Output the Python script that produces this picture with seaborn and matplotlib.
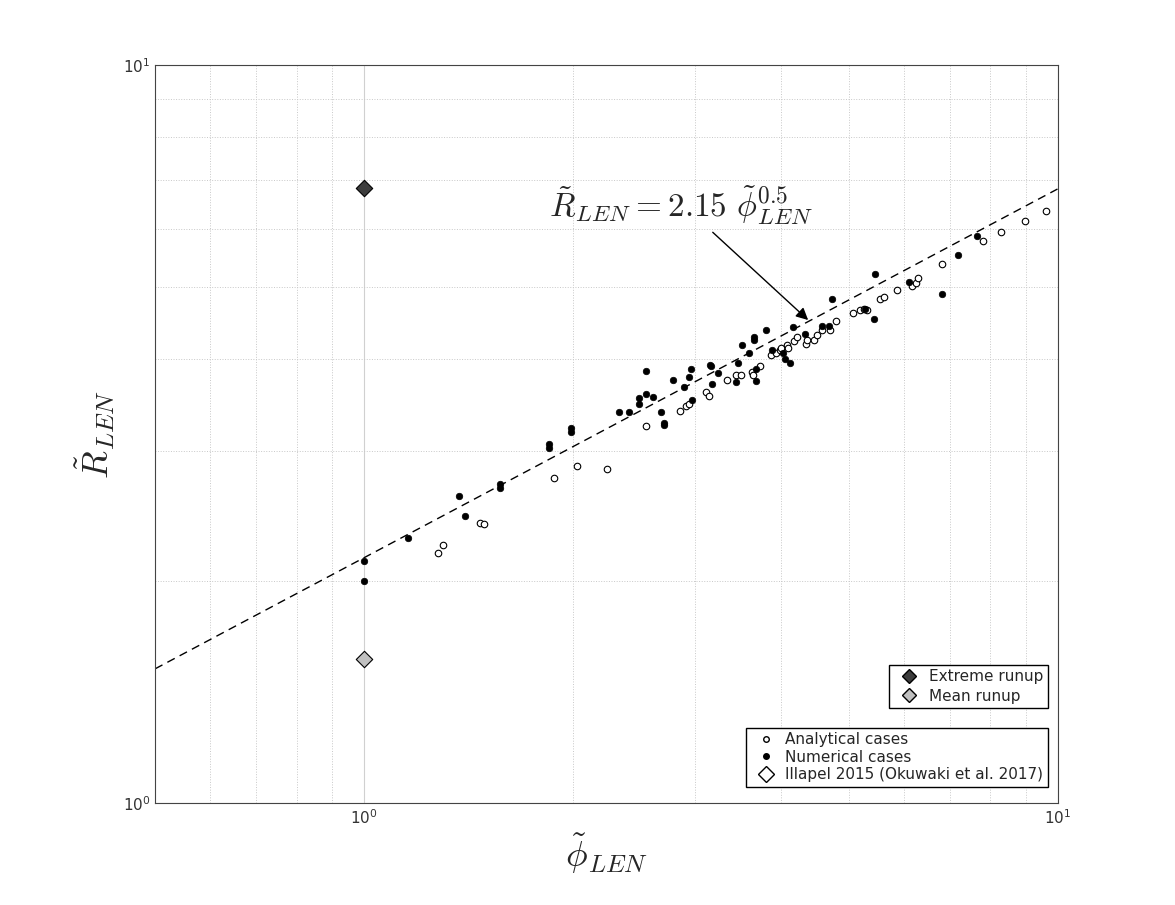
import numpy as np
import pandas as pd
import matplotlib
matplotlib.use("Agg")
import matplotlib.pyplot as plt
from matplotlib.lines import Line2D
from matplotlib.ticker import NullFormatter
import seaborn as sns

# numerical cases (filled)
num_phi = [1.00, 1.00, 1.157, 1.37, 1.40, 1.57, 1.57, 1.85, 1.85, 1.99, 1.99, 2.33, 2.41,
           2.49, 2.49, 2.55, 2.55, 2.61, 2.68, 2.71, 2.71, 2.79, 2.89, 2.94, 2.96, 2.97,
           3.15, 3.17, 3.18, 3.24, 3.44, 3.46, 3.51, 3.59, 3.65, 3.65, 3.68, 3.68, 3.80,
           3.88, 4.02, 4.05, 4.12, 4.16, 4.33, 4.57, 4.69, 4.73, 5.28, 5.44, 5.45, 6.10,
           6.81, 7.18, 7.65]
num_R = [2.13, 2.00, 2.29, 2.61, 2.45, 2.71, 2.67, 3.07, 3.03, 3.22, 3.18, 3.39, 3.39,
         3.54, 3.48, 3.58, 3.85, 3.55, 3.39, 3.28, 3.25, 3.74, 3.67, 3.78, 3.88, 3.52,
         3.93, 3.91, 3.70, 3.83, 3.72, 3.95, 4.18, 4.08, 4.24, 4.28, 3.73, 3.88, 4.38,
         4.11, 4.08, 4.00, 3.95, 4.42, 4.32, 4.43, 4.44, 4.83, 4.67, 4.53, 5.21, 5.08,
         4.90, 5.53, 5.88]

# analytical cases (hollow)
ana_phi = [1.28, 1.30, 1.47, 1.49, 1.88, 2.03, 2.24, 2.55, 2.86, 2.91, 2.94, 3.11, 3.14,
           3.34, 3.44, 3.50, 3.63, 3.64, 3.73, 3.86, 3.93, 3.98, 3.99, 4.07, 4.09, 4.17,
           4.21, 4.34, 4.35, 4.46, 4.50, 4.57, 4.70, 4.79, 5.07, 5.19, 5.26, 5.31, 5.54,
           5.62, 5.87, 6.17, 6.25, 6.29, 6.81, 7.80, 8.30, 8.97, 9.64]
ana_R = [2.18, 2.24, 2.40, 2.39, 2.76, 2.86, 2.84, 3.24, 3.40, 3.45, 3.48, 3.61, 3.56,
         3.74, 3.80, 3.80, 3.84, 3.81, 3.91, 4.05, 4.08, 4.11, 4.14, 4.18, 4.14, 4.23,
         4.28, 4.19, 4.24, 4.24, 4.31, 4.38, 4.38, 4.51, 4.61, 4.66, 4.67, 4.66, 4.82,
         4.86, 4.96, 5.03, 5.07, 5.15, 5.38, 5.78, 5.94, 6.15, 6.34]

# Illapel 2015
ill_phi = [1.0, 1.0]
ill_R = [6.81, 1.57]
ill_color = ["#3c3c3c", "#c0c0c0"]

fit_a, fit_b = 2.15, 0.5
fit_phi = np.array([0.5, 10.0])

sns.set_style("white")
plt.rcParams["mathtext.fontset"] = "cm"
fig = plt.figure(figsize=(11.75, 9.05), dpi=100)
ax = fig.add_axes([0.132, 0.1127, 0.768, 0.815])
ax.set_xscale("log")
ax.set_yscale("log")

ax.grid(True, which="major", color="#d0d0d0", lw=0.8, ls="-")
ax.grid(True, which="minor", color="#c8c8c8", lw=0.7, ls=":")

sns.lineplot(x=fit_phi, y=fit_a * fit_phi ** fit_b, ax=ax, color="black",
             lw=1.0, linestyle=(0, (6, 4)), zorder=2)
sns.scatterplot(x=ana_phi, y=ana_R, ax=ax, marker="o", s=22, facecolor="white",
                edgecolor="black", linewidth=0.8, zorder=3)
sns.scatterplot(x=num_phi, y=num_R, ax=ax, marker="o", s=22, color="black",
                edgecolor="black", linewidth=0.5, zorder=4)
for p, r, c in zip(ill_phi, ill_R, ill_color):
    ax.scatter(p, r, marker="D", s=70, facecolor=c, edgecolor="black", linewidth=0.8, zorder=5)

ax.set_xlim(0.5, 10)
ax.set_ylim(1, 10)
ax.xaxis.set_minor_formatter(NullFormatter())
ax.yaxis.set_minor_formatter(NullFormatter())
for s in ax.spines.values():
    s.set_color("#444444")
    s.set_linewidth(0.8)
ax.tick_params(which="both", direction="in", labelsize=11, colors="#333333")
ax.tick_params(which="major", length=5)
ax.tick_params(which="minor", length=3)
ax.set_xlabel(r"$\tilde{\phi}_{LEN}$", fontsize=26)
ax.set_ylabel(r"$\tilde{R}_{LEN}$", fontsize=26)

ax.annotate(r"$\tilde{R}_{LEN} = 2.15\ \tilde{\phi}_{LEN}^{0.5}$", xy=(4.40, 4.49),
            xytext=(0.436, 0.795), textcoords="axes fraction", fontsize=24,
            arrowprops=dict(arrowstyle="-|>", color="black", lw=1.0, mutation_scale=18,
                            relpos=(0.6, 0.0)))

h1 = [Line2D([], [], marker="D", ls="", mfc=ill_color[0], mec="black", ms=7),
      Line2D([], [], marker="D", ls="", mfc=ill_color[1], mec="black", ms=7)]
leg1 = ax.legend(h1, ["Extreme runup", "Mean runup"], loc="lower right",
                 bbox_to_anchor=(0.998, 0.118), fontsize=11, fancybox=False,
                 edgecolor="black", framealpha=1, handletextpad=0.3, borderpad=0.3,
                 labelspacing=0.3)
ax.add_artist(leg1)
h2 = [Line2D([], [], marker="o", ls="", mfc="white", mec="black", ms=4),
      Line2D([], [], marker="o", ls="", mfc="black", mec="black", ms=4),
      Line2D([], [], marker="D", ls="", mfc="white", mec="black", ms=8)]
ax.legend(h2, ["Analytical cases", "Numerical cases", "Illapel 2015 (Okuwaki et al. 2017)"],
          loc="lower right", bbox_to_anchor=(0.998, 0.012), fontsize=11, fancybox=False,
          edgecolor="black", framealpha=1, handletextpad=0.3, borderpad=0.3,
          labelspacing=0.15)

fig.savefig("out.png", dpi=100)
